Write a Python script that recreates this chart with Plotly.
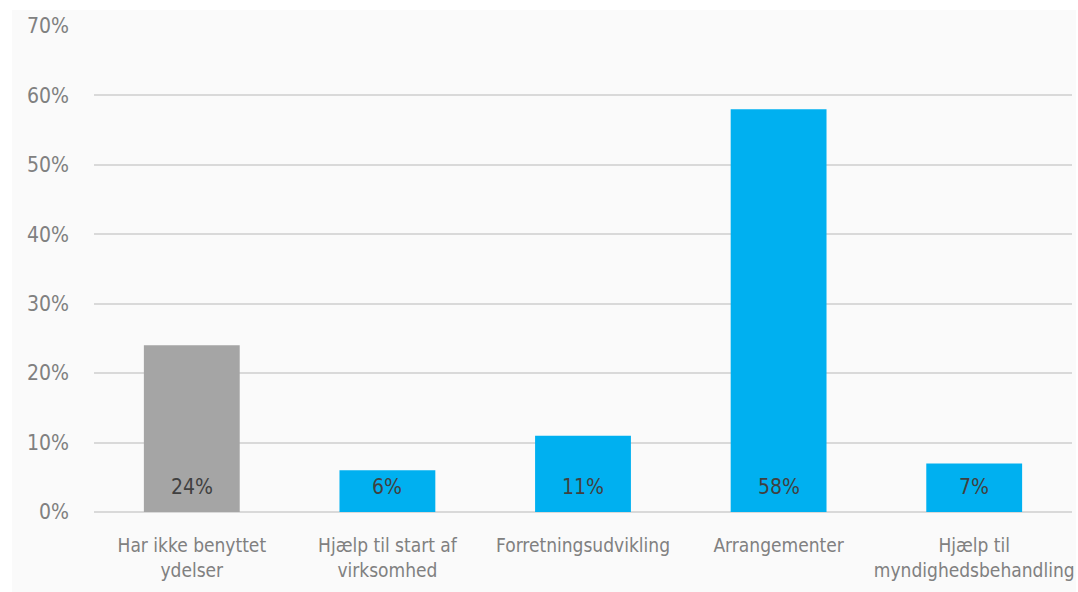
import plotly.graph_objects as go

categories = [
    "Har ikke benyttet<br>ydelser",
    "Hjælp til start af<br>virksomhed",
    "Forretningsudvikling",
    "Arrangementer",
    "Hjælp til<br>myndighedsbehandling",
]
values = [24, 6, 11, 58, 7]
bar_colors = ["#a5a5a5", "#00b0f0", "#00b0f0", "#00b0f0", "#00b0f0"]
tick_vals = [0, 10, 20, 30, 40, 50, 60, 70]
tick_text = ["0%", "10%", "20%", "30%", "40%", "50%", "60%", "70%"]

FONT = "DejaVu Sans Condensed, Liberation Sans Narrow, sans-serif"

W, H = 1078, 592
ML, MR, MT, MB = 94, 6, 26, 80
pw, ph = W - ML - MR, H - MT - MB

def px_x(p):
    return (p - ML) / pw

def px_y(p):
    return (H - MB - p) / ph

fig = go.Figure()
fig.add_trace(go.Bar(
    x=categories,
    y=values,
    marker=dict(color=bar_colors, line=dict(width=0)),
    hoverinfo="skip",
))

# value labels sitting near the base of each bar
for c, v in zip(categories, values):
    fig.add_annotation(
        x=c, y=0, xref="x", yref="y",
        text=f"{v}%", showarrow=False,
        yanchor="middle", yshift=25,
        font=dict(family=FONT, size=21, color="#404040"),
    )

# light panel behind the chart
fig.add_shape(
    type="rect", xref="paper", yref="paper",
    x0=px_x(12), x1=px_x(1076), y0=px_y(592), y1=px_y(10),
    fillcolor="#fafafa", line=dict(width=0), layer="below",
)

fig.update_layout(
    width=W, height=H,
    margin=dict(l=ML, r=MR, t=MT, b=MB),
    paper_bgcolor="white",
    plot_bgcolor="rgba(0,0,0,0)",
    bargap=0.51,
    showlegend=False,
    font=dict(family=FONT, color="#808080"),
    xaxis=dict(
        showgrid=False, zeroline=False, showline=False,
        ticks="", tickfont=dict(size=19, color="#808080"),
        ticklabelstandoff=20, automargin=False,
    ),
    yaxis=dict(
        range=[0, 70], tickvals=tick_vals, ticktext=tick_text,
        showgrid=True, gridcolor="#d9d9d9", gridwidth=2,
        zeroline=True, zerolinecolor="#d9d9d9", zerolinewidth=2,
        showline=False, ticks="",
        tickfont=dict(size=21, color="#808080"),
        ticklabelstandoff=24, automargin=False,
    ),
)

fig.write_html("out.html")
